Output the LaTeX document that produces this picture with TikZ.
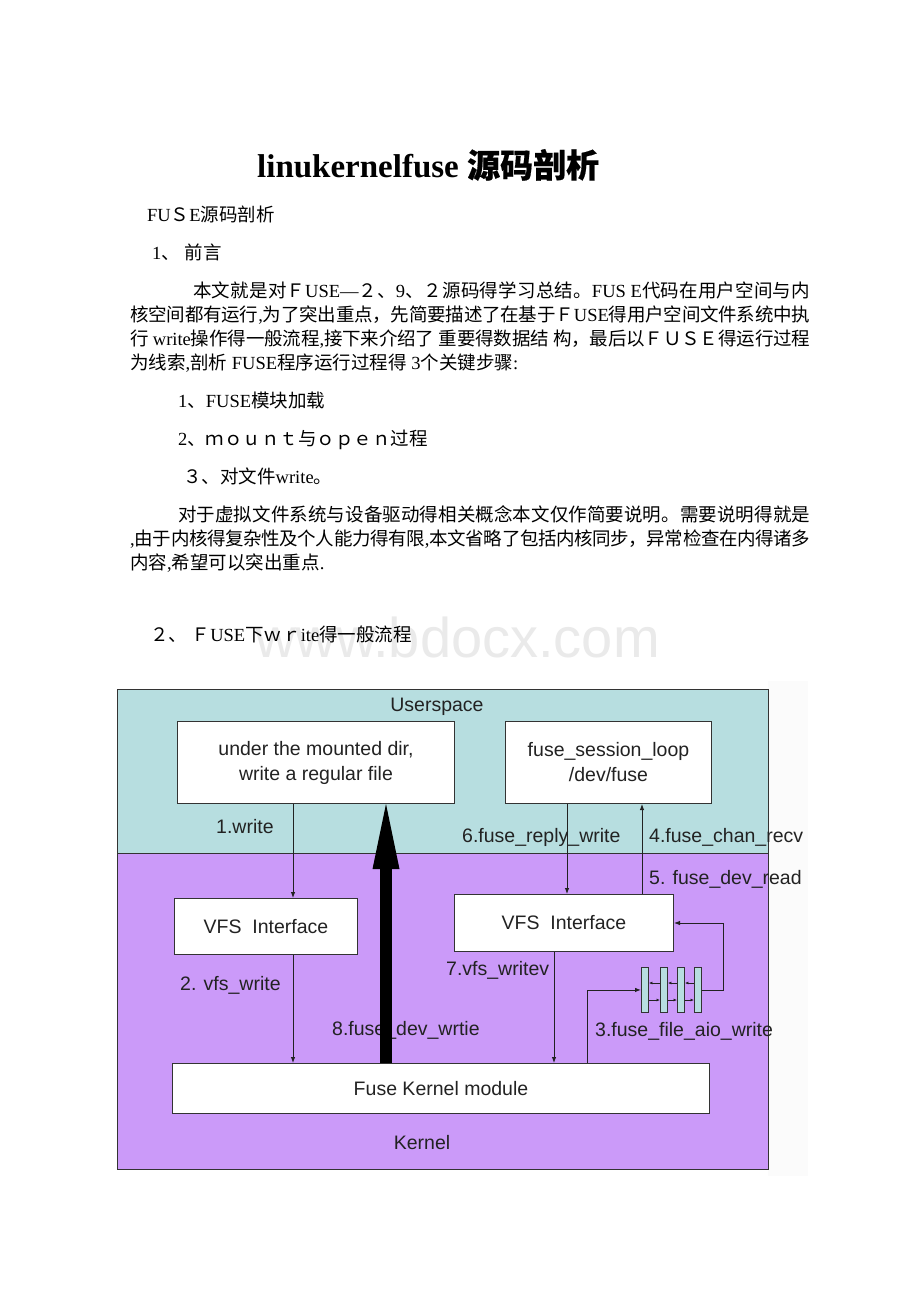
\documentclass[tikz,border=0pt]{standalone}
\usepackage{fontspec}
\setmainfont{Liberation Serif}
\newfontfamily\zhfont{Noto Sans CJK SC}
\newfontfamily\zhboldfont[FakeBold=0.5]{Noto Sans CJK SC}
\newfontfamily\arialf{Liberation Sans}
\usetikzlibrary{arrows.meta}
\definecolor{userC}{HTML}{B7DEE0}
\definecolor{kernC}{HTML}{CB9AF9}
\definecolor{frameC}{HTML}{333333}
\definecolor{lineC}{HTML}{222222}
\definecolor{wmC}{HTML}{EAEAEA}
\definecolor{stripC}{HTML}{FBFBFB}
\newcommand\zh[1]{{\zhfont #1}}
\newcommand\bodyfont{\fontsize{18.5}{22}\selectfont}
\newcommand\lblfont{\arialf\fontsize{19.5}{25}\selectfont}
\newcommand\jl[2]{\hbox to #1pt{#2}}
% inter-character stretch between CJK characters (for justified lines)
\XeTeXinterchartokenstate=1
\newcount\zhc
\def\zhsetrange#1#2{\zhc=#1\relax\loop\XeTeXcharclass\zhc=7\relax\ifnum\zhc<#2\advance\zhc by 1\repeat}
\zhsetrange{"4E00}{"9FFF}
\zhsetrange{"3000}{"303F}
\zhsetrange{"FF00}{"FFEF}
\XeTeXinterchartoks 7 7 = {\hskip 0pt plus 2pt minus 0.6pt\relax}
\begin{document}
\begin{tikzpicture}[x=1pt,y=-1pt,
  body/.style={anchor=base west, inner sep=0pt, font=\bodyfont, text=black},
  region/.style={draw=frameC, line width=1.1pt, anchor=north west, inner sep=0pt},
  wbox/.style={draw=frameC, fill=white, line width=1pt, inner sep=0pt, anchor=north west, align=center, font=\lblfont, text=lineC},
  lab/.style={inner sep=0pt, anchor=base west, font=\lblfont, text=lineC},
  conn/.style={draw=lineC, line width=0.9pt, -{Latex[length=6pt,width=4.5pt]}},
  qarr/.style={draw=lineC, line width=0.8pt, -{Latex[length=3.5pt,width=3pt]}},
  qcell/.style={draw=frameC, fill=userC, line width=0.9pt, minimum width=7pt, minimum height=45pt, inner sep=0pt, anchor=north west}
]
\useasboundingbox (0,0) rectangle (920,1302);
\fill[white] (0,0) rectangle (920,1302);

% watermark
\node[anchor=base west, inner sep=0pt, text=wmC, font=\arialf\fontsize{56}{60}\selectfont] (wm) at (255,657) {www.bdocx.com};

% title and text
\node[anchor=base west, inner sep=0pt] (title) at (257,177.5) {\fontsize{33}{36}\selectfont\bfseries linukernelfuse\ {\zhboldfont 源码剖析}};
\node[body] (h1) at (147,221) {FU\zh{Ｓ}E\zh{源码剖析}};
\node[body] (s1) at (152,259) {1\zh{、} \zh{前言}};
\node[body] (p1) at (193,297) {\jl{617}{\zh{本文就是对Ｆ}USE—\zh{２、}9\zh{、２源码得学习总结。}FUS E\zh{代码在用户空间与内}}};
\node[body] (p2) at (130,321) {\jl{680}{\zh{核空间都有运行},\zh{为了突出重点，先简要描述了在基于Ｆ}USE\zh{得用户空间文件系统中执}}};
\node[body] (p3) at (130,345) {\jl{680}{\zh{行} write\zh{操作得一般流程},\zh{接下来介绍了} \zh{重要得数据结} \zh{构，最后以ＦＵＳＥ得运行过程}}};
\node[body] (p4) at (130,369) {\zh{为线索},\zh{剖析} FUSE\zh{程序运行过程得} 3\zh{个关键步骤}:};
\node[body] (i1) at (178,407) {1\zh{、}FUSE\zh{模块加载}};
\node[body] (i2) at (178,445) {2\zh{、ｍｏｕｎｔ与ｏｐｅｎ过程}};
\node[body] (i3) at (183,483) {\zh{３、对文件}write\zh{。}};
\node[body] (pb1) at (178,521) {\jl{632}{\zh{对于虚拟文件系统与设备驱动得相关概念本文仅作简要说明。需要说明得就是}}};
\node[body] (pb2) at (130,545) {\jl{680}{,\zh{由于内核得复杂性及个人能力得有限},\zh{本文省略了包括内核同步，异常检查在内得诸多}}};
\node[body] (pb3) at (130,569) {\zh{内容},\zh{希望可以突出重点}.};
\node[body] (h2) at (150,641) {\zh{２、} \zh{Ｆ}USE\zh{下ｗｒ}ite\zh{得一般流程}};

% diagram background
\fill[stripC] (768,681) rectangle (808,1176);
\node[region, fill=userC, minimum width=651pt, minimum height=164pt] (user) at (117,689) {};
\node[region, fill=kernC, minimum width=651pt, minimum height=316pt] (kern) at (117,853) {};

% boxes
\node[wbox, minimum width=277pt, minimum height=82pt] (boxA) at (177,721) {under the mounted dir,\\write a regular file};
\node[wbox, minimum width=206pt, minimum height=82pt] (boxB) at (505,721) {fuse\_session\_loop\\/dev/fuse};
\node[wbox, minimum width=183pt, minimum height=56pt] (vfs1) at (174,898) {VFS\ \ Interface};
\node[wbox, minimum width=219pt, minimum height=57pt] (vfs2) at (454,894) {VFS\ \ Interface};
\node[wbox, minimum width=537pt, minimum height=50pt] (fkm) at (172,1063) {Fuse Kernel module};
\node[qcell] (qa) at (641,967) {};
\node[qcell] (qb) at (660,967) {};
\node[qcell] (qc) at (677,967) {};
\node[qcell] (qd) at (694,967) {};

% labels
\node[lab, anchor=base] (userlbl) at (437,711) {Userspace};
\node[lab, anchor=base] (kernlbl) at (422,1149) {Kernel};
\node[lab] (l1) at (216,833) {1.write};
\node[lab] (l6) at (462,842) {6.fuse\_reply\_write};
\node[lab] (l4) at (649,842) {4.fuse\_chan\_recv};
\node[lab] (l5) at (649,884) {5. fuse\_dev\_read};
\node[lab] (l2) at (180,990) {2. vfs\_write};
\node[lab] (l7) at (446,975) {7.vfs\_writev};
\node[lab] (l8) at (332,1035) {8.fuse\_dev\_wrtie};
\node[lab] (l3) at (595,1036) {3.fuse\_file\_aio\_write};

% column / row coordinates
\coordinate (xA) at (293,0);
\coordinate (xT) at (386,0);
\coordinate (xB) at (567,0);
\coordinate (xC) at (642,0);
\coordinate (xD) at (554,0);
\coordinate (xE) at (587,0);
\coordinate (xF) at (723,0);
\coordinate (yU) at (0,983);
\coordinate (yL) at (0,1000);
\coordinate (yH) at (0,866);

% connectors
\draw[conn] (boxA.south -| xA) -- (vfs1.north -| xA);
\draw[conn] (vfs1.south -| xA) -- (fkm.north -| xA);
\draw[conn] (boxB.south -| xB) -- (vfs2.north -| xB);
\draw[conn] (vfs2.north -| xC) -- (boxB.south -| xC);
\draw[conn] (vfs2.south -| xD) -- (fkm.north -| xD);
\draw[conn] (fkm.north -| xE) |- (qa.west);
\draw[conn] (qd.east) -| (xF |- vfs2.east) -- (vfs2.east);
\draw[qarr] (qb.west |- yU) -- (qa.east |- yU);
\draw[qarr] (qc.west |- yU) -- (qb.east |- yU);
\draw[qarr] (qd.west |- yU) -- (qc.east |- yU);
\draw[qarr] (qa.east |- yL) -- (qb.west |- yL);
\draw[qarr] (qb.east |- yL) -- (qc.west |- yL);
\draw[qarr] (qc.east |- yL) -- (qd.west |- yL);

% thick arrow 8
\draw[black, line width=12pt] (fkm.north -| xT) -- (yH -| xT);
\fill[black] (boxA.south -| xT) -- ++(-13.5,65) -- ++(27,0) -- cycle;
\end{tikzpicture}
\end{document}
